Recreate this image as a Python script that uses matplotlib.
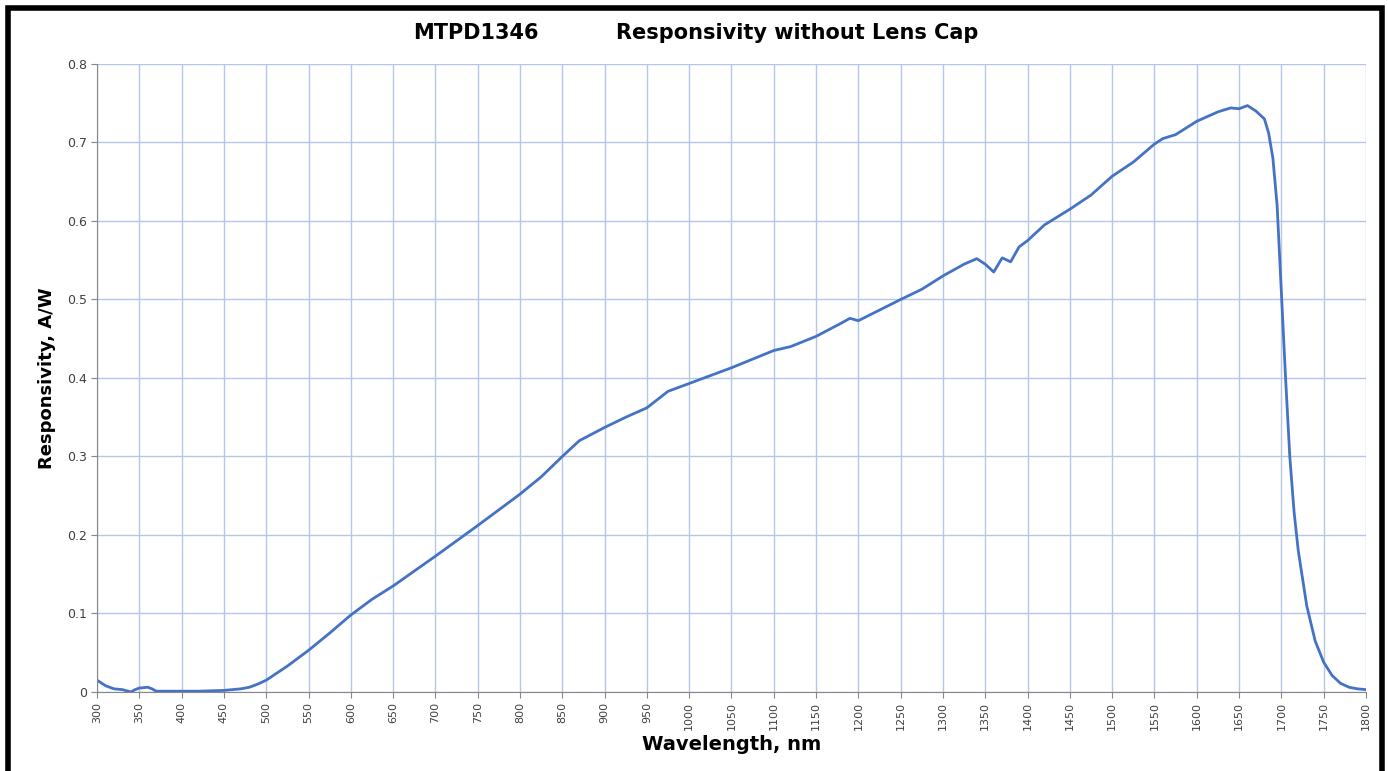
import matplotlib
matplotlib.use('Agg')
import matplotlib.pyplot as plt
from matplotlib.patches import Rectangle

# Datos
wavelength = [300, 310, 320, 330, 340, 345, 350, 360, 365, 370, 380, 400, 420, 450, 470, 480,
              490, 500, 525, 550, 575, 600, 625, 650, 700, 750, 800, 825, 850, 870, 900,
              925, 950, 975, 1000, 1050, 1100, 1120, 1150, 1180, 1190, 1200, 1250, 1275,
              1300, 1325, 1340, 1350, 1360, 1370, 1380, 1390, 1400, 1420, 1450, 1475, 1500,
              1525, 1550, 1560, 1575, 1600, 1625, 1640, 1650, 1660, 1670, 1680, 1685, 1690,
              1695, 1700, 1705, 1710, 1715, 1720, 1730, 1740, 1750, 1760, 1770, 1780, 1790,
              1800]
responsivity = [0.015, 0.008, 0.004, 0.003, 0.0, 0.003, 0.005, 0.006, 0.004, 0.001, 0.001,
                0.001, 0.001, 0.002, 0.004, 0.006, 0.010, 0.015, 0.033, 0.053, 0.075, 0.098,
                0.118, 0.135, 0.173, 0.212, 0.252, 0.274, 0.300, 0.320, 0.337, 0.350, 0.362,
                0.383, 0.393, 0.413, 0.435, 0.440, 0.453, 0.470, 0.476, 0.473, 0.500, 0.513,
                0.530, 0.545, 0.552, 0.545, 0.535, 0.553, 0.548, 0.567, 0.575, 0.595, 0.615,
                0.633, 0.657, 0.675, 0.698, 0.705, 0.710, 0.727, 0.739, 0.744, 0.743, 0.747,
                0.740, 0.730, 0.712, 0.680, 0.620, 0.510, 0.400, 0.300, 0.230, 0.180, 0.110,
                0.065, 0.038, 0.021, 0.011, 0.006, 0.004, 0.003]
x_ticks = list(range(300, 1801, 50))
y_ticks = [0, 0.1, 0.2, 0.3, 0.4, 0.5, 0.6, 0.7, 0.8]
y_labels = ['0', '0.1', '0.2', '0.3', '0.4', '0.5', '0.6', '0.7', '0.8']

AZUL = '#4472c4'
REJILLA = '#b4c7e7'

fig = plt.figure(figsize=(13.88, 7.71), dpi=100)
ax = fig.add_axes([0.0699, 0.1025, 0.9142, 0.8145])

ax.plot(wavelength, responsivity, color=AZUL, lw=2.0, solid_joinstyle='round')

ax.set_xlim(300, 1800)
ax.set_ylim(0, 0.8)
ax.set_xticks(x_ticks)
ax.set_xticklabels([str(t) for t in x_ticks], rotation=90, fontsize=8, color='#404040')
ax.set_yticks(y_ticks)
ax.set_yticklabels(y_labels, fontsize=9, color='#404040')
ax.grid(True, color=REJILLA, lw=1)
ax.set_axisbelow(True)
ax.tick_params(axis='both', length=4, color='#868686', pad=3)

for lado in ['top', 'right']:
    ax.spines[lado].set_visible(False)
for lado in ['left', 'bottom']:
    ax.spines[lado].set_color('#868686')

ax.set_xlabel('Wavelength, nm', fontsize=14, fontweight='bold', labelpad=4)
ax.set_ylabel('Responsivity, A/W', fontsize=13, fontweight='bold', labelpad=8)

fig.text(0.298, 0.957, 'MTPD1346', fontsize=15, fontweight='bold', ha='left', va='center')
fig.text(0.444, 0.957, 'Responsivity without Lens Cap', fontsize=15, fontweight='bold',
         ha='left', va='center')

# Marco negro de la figura
fig.patches.append(Rectangle((0.0055, -0.02), 0.9905, 1.009, transform=fig.transFigure,
                             fill=False, edgecolor='black', lw=4, zorder=10))

fig.savefig('out.png', dpi=100)
